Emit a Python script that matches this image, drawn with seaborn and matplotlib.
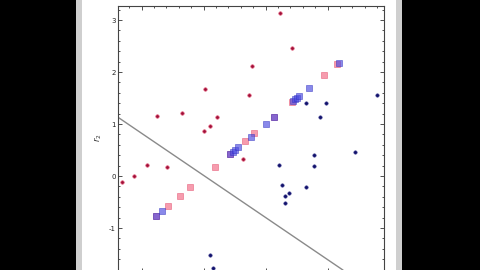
import matplotlib
matplotlib.use("Agg")
import matplotlib.pyplot as plt
import seaborn as sns
import pandas as pd
from matplotlib.patches import Rectangle
from matplotlib.ticker import MultipleLocator

# ---- data ----
red_dot_x = [-0.755, -0.34, 0.02, 0.22, 0.10, 0.01, 1.23, 1.42, 0.78, 0.73, -1.32, -1.12, -0.92, -0.59, 0.64]
red_dot_y = [1.15, 1.21, 1.68, 1.13, 0.97, 0.86, 3.14, 2.47, 2.12, 1.56, -0.12, 0.00, 0.21, 0.18, 0.32]
blue_dot_x = [1.66, 1.98, 1.88, 2.80, 1.22, 1.78, 1.78, 2.44, 1.26, 1.38, 1.31, 1.32, 1.66, 0.10, 0.16]
blue_dot_y = [1.40, 1.40, 1.13, 1.56, 0.22, 0.40, 0.20, 0.46, -0.17, -0.32, -0.39, -0.51, -0.21, -1.51, -1.76]
red_square_v = [-0.76, -0.57, -0.38, -0.22, 0.18, 0.42, 0.67, 0.82, 1.13, 1.42, 1.94, 2.15]
blue_square_v = [-0.76, -0.67, 0.42, 0.47, 0.50, 0.56, 0.76, 1.00, 1.13, 1.44, 1.48, 1.51, 1.54, 1.70, 2.18]
line_x = [-1.38, 2.25]
line_y = [1.13, -1.81]
y_ticks = [-1, 0, 1, 2, 3]
y_label = "$r_2$"

sns.set_style("white")

fig = plt.figure(figsize=(4.8, 2.7), dpi=100)
fig.patch.set_facecolor("black")
W, H = 480, 270
fig.patches.append(Rectangle((76 / W, 0), (402 - 76) / W, 1, transform=fig.transFigure,
                             facecolor="#cfcfcf", edgecolor="none", zorder=-2))
fig.patches.append(Rectangle((82 / W, 0), (396 - 82) / W, 1, transform=fig.transFigure,
                             facecolor="white", edgecolor="none", zorder=-1))

ax = fig.add_axes([118 / W, -2 / H, (384 - 118) / W, 266 / H])
ax.set_facecolor("white")

ax.plot(line_x, line_y, color="#8a8a8a", lw=1.0, zorder=1)

sq_red = pd.DataFrame({"x": red_square_v, "y": red_square_v})
sq_blue = pd.DataFrame({"x": blue_square_v, "y": blue_square_v})
sns.scatterplot(data=sq_red, x="x", y="y", ax=ax, marker="s", s=22,
                color="#f05a78", alpha=0.6, edgecolor="#e04060", linewidth=0.5, zorder=2)
sns.scatterplot(data=sq_blue, x="x", y="y", ax=ax, marker="s", s=22,
                color="#4a4ae0", alpha=0.65, edgecolor="#3030c0", linewidth=0.5, zorder=3)

rd = pd.DataFrame({"x": red_dot_x, "y": red_dot_y})
bd = pd.DataFrame({"x": blue_dot_x, "y": blue_dot_y})
sns.scatterplot(data=rd, x="x", y="y", ax=ax, marker="o", s=6,
                color="#9a1038", edgecolor="#e05070", linewidth=0.5, zorder=4)
sns.scatterplot(data=bd, x="x", y="y", ax=ax, marker="o", s=6,
                color="#12126a", edgecolor="#3a3a90", linewidth=0.4, zorder=4)

ax.set_xlim(-1.38, 2.91)
ax.set_ylim(-1.846, 3.27)
ax.set_xlabel("")
ax.set_ylabel("")
ax.set_yticks(y_ticks)
ax.set_yticklabels([str(t) if t >= 0 else "-1" for t in y_ticks])
ax.yaxis.set_minor_locator(MultipleLocator(0.2))
ax.xaxis.set_major_locator(MultipleLocator(1.0))
ax.xaxis.set_minor_locator(MultipleLocator(0.2))
ax.tick_params(axis="both", which="both", direction="in", top=True, right=True,
               bottom=True, left=True, color="#333333", width=0.6)
ax.tick_params(which="major", length=3.2)
ax.tick_params(which="minor", length=1.6)
ax.tick_params(axis="x", labelbottom=False)
ax.tick_params(axis="y", labelsize=5, pad=1.5, labelcolor="#222222")
for sp in ax.spines.values():
    sp.set_color("#444444")
    sp.set_linewidth(0.8)

fig.text(98 / W, 1 - 138 / H, y_label, rotation=90, fontsize=6, color="#333333",
         ha="center", va="center")

fig.savefig("out.png", dpi=100, facecolor=fig.get_facecolor())
